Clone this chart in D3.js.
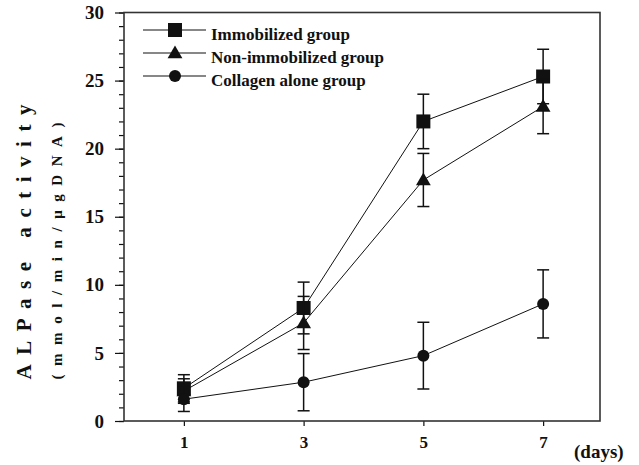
<!DOCTYPE html>
<html>
<head>
<meta charset="utf-8">
<script src="https://cdn.jsdelivr.net/npm/d3@7"></script>
<style>
  body { margin: 0; background: #fff; }
  svg { display: block; font-family: 'Liberation Serif', 'Times New Roman', serif; font-weight: bold; }
</style>
</head>
<body>
<svg width="639" height="465"></svg>
<script>
const days = [1, 3, 5, 7];
const immobilized = [2.4, 8.3, 22.0, 25.3];
const immobilizedErr = [1.0, 1.9, 2.0, 2.0];
const nonImmobilized = [2.2, 7.2, 17.7, 23.1];
const nonImmobilizedErr = [0.9, 1.95, 1.95, 2.0];
const collagen = [1.6, 2.85, 4.8, 8.6];
const collagenErr = [0.9, 2.1, 2.45, 2.5];
const yMajorTicks = [0, 5, 10, 15, 20, 25, 30];
const seriesNames = ['Immobilized group', 'Non-immobilized group', 'Collagen alone group'];

const series = [
  { name: seriesNames[0], values: immobilized, errs: immobilizedErr, shape: 'square' },
  { name: seriesNames[1], values: nonImmobilized, errs: nonImmobilizedErr, shape: 'triangle' },
  { name: seriesNames[2], values: collagen, errs: collagenErr, shape: 'circle' },
];

const plotLeft = 124;
const plotRight = 600;
const plotTop = 12.5;
const plotBottom = 421;
const serif = "'Liberation Serif', 'Times New Roman', serif";

const x = d3.scaleLinear().domain([0, 7.95]).range([plotLeft, plotRight]);
const y = d3.scaleLinear().domain([0, 30]).range([plotBottom, plotTop]);

const svg = d3.select('svg');
const ink = '#111';

// minor y ticks
svg
  .append('g')
  .attr('transform', `translate(${plotLeft},0)`)
  .call(d3.axisLeft(y).tickValues(d3.range(0, 31, 1)).tickSize(5).tickFormat(''))
  .call((g) => g.select('.domain').remove())
  .call((g) => g.selectAll('line').attr('stroke', ink).attr('stroke-width', 1.2));

// major y ticks
svg
  .append('g')
  .attr('transform', `translate(${plotLeft},0)`)
  .call(d3.axisLeft(y).tickValues(yMajorTicks).tickSize(9).tickPadding(11))
  .call((g) => g.select('.domain').remove())
  .call((g) => g.selectAll('line').attr('stroke', ink).attr('stroke-width', 1.2))
  .call((g) =>
    g
      .selectAll('text')
      .attr('fill', ink)
      .style('font-family', serif)
      .style('font-weight', 'bold')
      .style('font-size', '19px')
  );

// x ticks
svg
  .append('g')
  .attr('transform', `translate(0,${plotBottom})`)
  .call(d3.axisBottom(x).tickValues(days).tickSize(5).tickPadding(10))
  .call((g) => g.select('.domain').remove())
  .call((g) => g.selectAll('line').attr('stroke', ink).attr('stroke-width', 1.2))
  .call((g) =>
    g
      .selectAll('text')
      .attr('fill', ink)
      .style('font-family', serif)
      .style('font-weight', 'bold')
      .style('font-size', '17px')
  );

// frame
svg
  .append('rect')
  .attr('x', plotLeft)
  .attr('y', plotTop)
  .attr('width', plotRight - plotLeft)
  .attr('height', plotBottom - plotTop)
  .attr('fill', 'none')
  .attr('stroke', '#333')
  .attr('stroke-width', 1.6);

const line = d3
  .line()
  .x((d, i) => x(days[i]))
  .y((d) => y(d));

const capW = 6;

function drawMarker(g, shape, cx, cy) {
  if (shape === 'square') {
    g.append('rect')
      .attr('x', cx - 7)
      .attr('y', cy - 7)
      .attr('width', 14)
      .attr('height', 14)
      .attr('fill', ink);
  } else if (shape === 'triangle') {
    g.append('path')
      .attr('d', d3.symbol(d3.symbolTriangle, 95)())
      .attr('transform', `translate(${cx},${cy + 1})`)
      .attr('fill', ink);
  } else {
    g.append('circle').attr('cx', cx).attr('cy', cy).attr('r', 6).attr('fill', ink);
  }
}

series.forEach((s) => {
  const g = svg.append('g');

  g.append('path')
    .attr('d', line(s.values))
    .attr('fill', 'none')
    .attr('stroke', ink)
    .attr('stroke-width', 1);

  const bars = g
    .selectAll('.err')
    .data(s.values)
    .enter()
    .append('g')
    .classed('err', true);

  bars
    .append('line')
    .attr('x1', (d, i) => x(days[i]))
    .attr('x2', (d, i) => x(days[i]))
    .attr('y1', (d, i) => y(d + s.errs[i]))
    .attr('y2', (d, i) => y(d - s.errs[i]))
    .attr('stroke', ink)
    .attr('stroke-width', 1.5);

  [1, -1].forEach((sign) => {
    bars
      .append('line')
      .attr('x1', (d, i) => x(days[i]) - capW)
      .attr('x2', (d, i) => x(days[i]) + capW)
      .attr('y1', (d, i) => y(d + sign * s.errs[i]))
      .attr('y2', (d, i) => y(d + sign * s.errs[i]))
      .attr('stroke', ink)
      .attr('stroke-width', 1.5);
  });

  s.values.forEach((v, i) => drawMarker(g, s.shape, x(days[i]), y(v)));
});

// legend
const legend = svg
  .selectAll('.legend')
  .data(series)
  .enter()
  .append('g')
  .classed('legend', true)
  .attr('transform', (d, i) => `translate(0,${30 + i * 23})`);

legend
  .append('line')
  .attr('x1', 143)
  .attr('x2', 206)
  .attr('stroke', ink)
  .attr('stroke-width', 1.2);

legend.each(function (d) {
  drawMarker(d3.select(this), d.shape, 175, 0);
});

legend
  .append('text')
  .attr('x', 211)
  .attr('y', 10)
  .attr('fill', ink)
  .style('font-size', '17px')
  .text((d) => d.name);

// axis titles
svg
  .append('text')
  .attr('transform', 'translate(31,242) rotate(-90)')
  .attr('text-anchor', 'middle')
  .attr('fill', ink)
  .attr('textLength', 275)
  .attr('lengthAdjust', 'spacing')
  .style('font-size', '21px')
  .text('ALPase activity');

svg
  .append('text')
  .attr('transform', 'translate(62,251) rotate(-90)')
  .attr('text-anchor', 'middle')
  .attr('fill', ink)
  .attr('textLength', 257)
  .attr('lengthAdjust', 'spacing')
  .style('font-size', '15px')
  .text('(mmol/min/\u03bcgDNA)');

svg
  .append('text')
  .attr('x', 574)
  .attr('y', 458)
  .attr('fill', ink)
  .style('font-size', '19px')
  .text('(days)');
</script>
</body>
</html>
